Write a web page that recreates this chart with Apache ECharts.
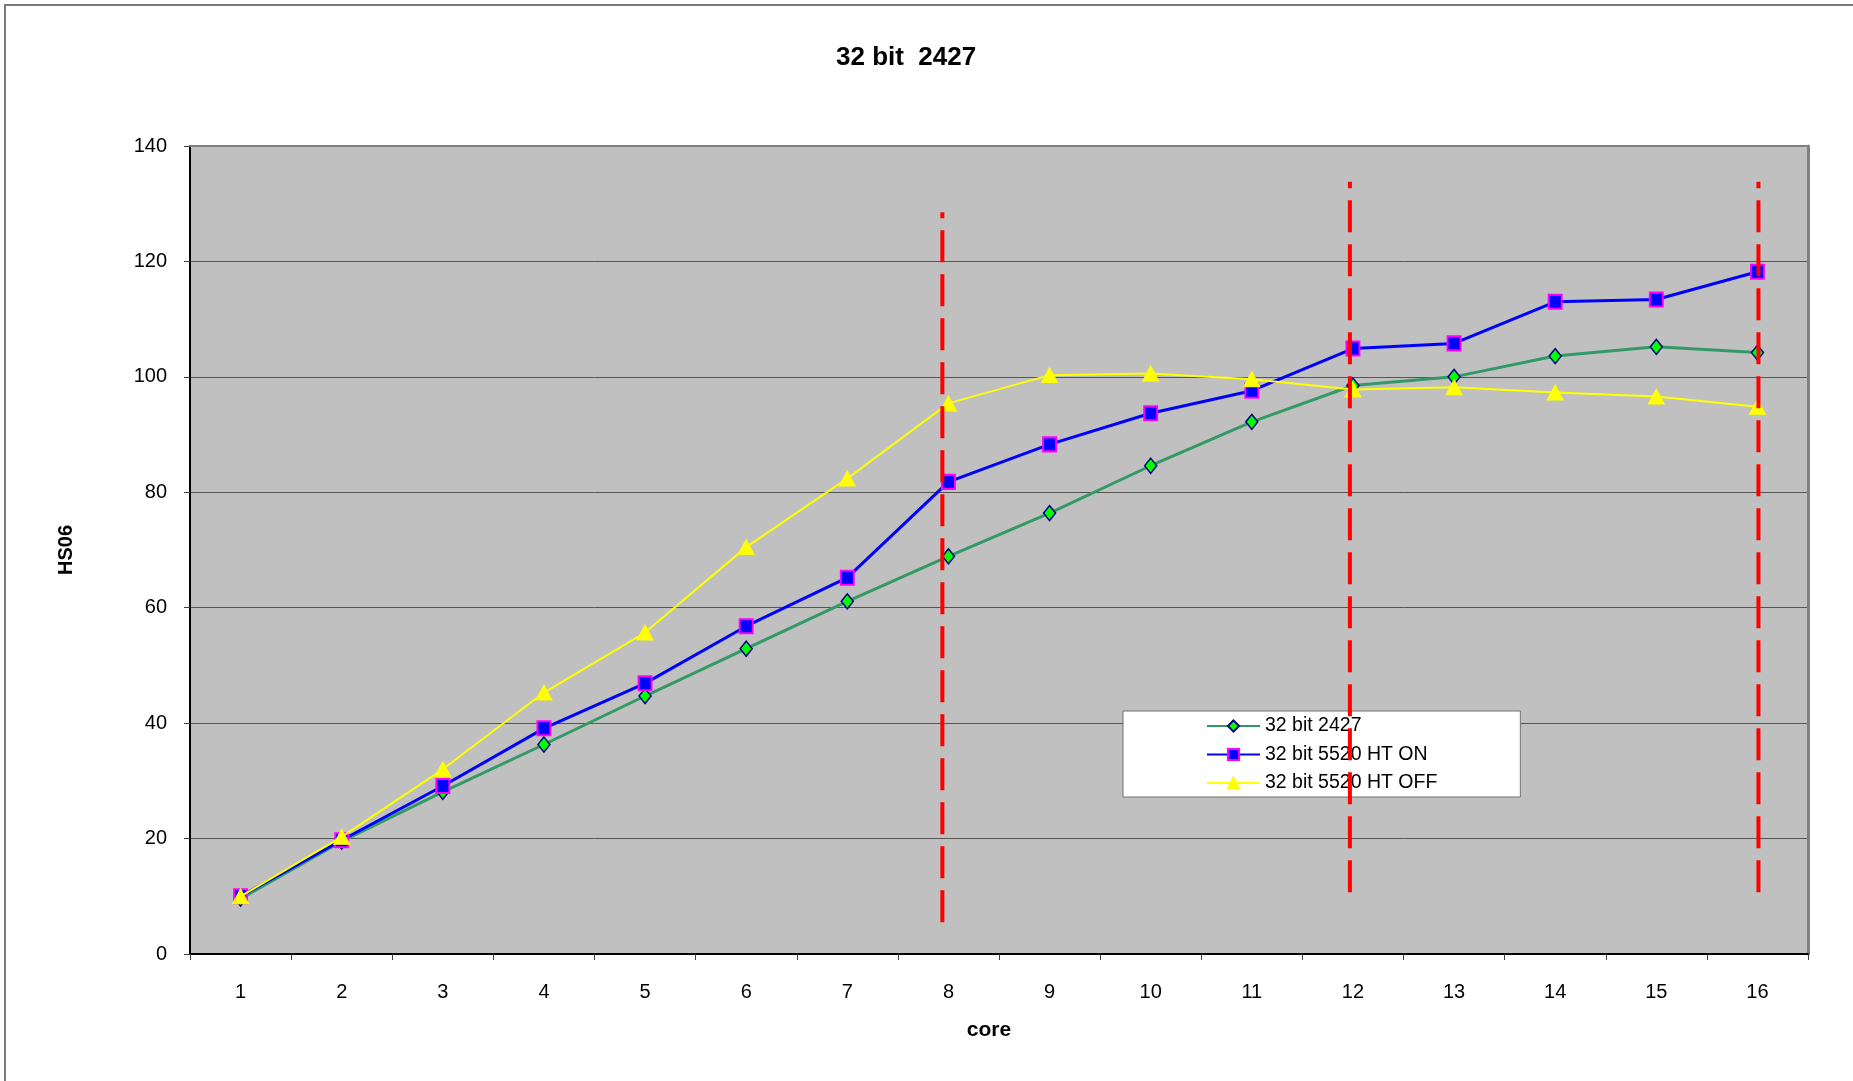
<!DOCTYPE html>
<html>
<head>
<meta charset="utf-8">
<script src="https://cdn.jsdelivr.net/npm/echarts@6/dist/echarts.min.js"></script>
<style>
  html, body { margin: 0; padding: 0; background: #fff; }
  #chart { position: absolute; left: 0; top: 0; width: 1853px; height: 1081px; }
  #frame { position: absolute; left: 4px; top: 4px; right: 0; bottom: 0;
           border-left: 2px solid #7a7a7a; border-top: 2px solid #7a7a7a; pointer-events: none; }
</style>
</head>
<body>
<div id="chart"></div>
<div id="frame"></div>
<script>
const categories = ['1','2','3','4','5','6','7','8','9','10','11','12','13','14','15','16'];
const yTicks = [0, 20, 40, 60, 80, 100, 120, 140];

const s2427 = [9.6, 19.5, 28.1, 36.3, 44.7, 52.9, 61.1, 68.9, 76.4, 84.6, 92.2, 98.5, 100.0, 103.6, 105.2, 104.2];
const s5520On = [10.0, 19.7, 29.1, 39.1, 46.9, 56.8, 65.2, 81.8, 88.3, 93.7, 97.6, 104.9, 105.8, 113.0, 113.4, 118.2];
const s5520Off = [10.0, 20.3, 32.0, 45.3, 55.7, 70.5, 82.4, 95.4, 100.3, 100.6, 99.6, 97.8, 98.2, 97.3, 96.6, 94.8];

const seriesNames = ['32 bit 2427', '32 bit 5520 HT ON', '32 bit 5520 HT OFF'];

// red dashed reference lines: x position (in core units), bottom value, top value
const refX = [7.94, 11.97, 16.01];
const refBottom = [5.5, 10.7, 10.7];
const refTop = [128.5, 133.8, 133.8];

const FONT = '"Liberation Sans", Arial, sans-serif';

const chart = echarts.init(document.getElementById('chart'), null, { renderer: 'canvas' });

const refSeries = refX.map((x, i) => ({
  type: 'line',
  xAxisIndex: 1,
  yAxisIndex: 0,
  data: [[x, refBottom[i]], [x, refTop[i]]],
  symbol: 'none',
  silent: true,
  z: 10,
  lineStyle: { color: '#FF0000', width: 4, type: [32, 12], cap: 'butt' },
  animation: false
}));

const option = {
  animation: false,
  backgroundColor: 'transparent',
  textStyle: { fontFamily: FONT },
  title: {
    text: '32 bit  2427',
    left: 831,
    top: 40,
    textStyle: { fontFamily: FONT, fontSize: 26, fontWeight: 'bold', color: '#000' }
  },
  grid: {
    left: 190, right: 45, top: 146, bottom: 127,
    show: true, backgroundColor: '#C0C0C0', borderWidth: 0
  },
  legend: {
    data: seriesNames,
    orient: 'vertical',
    left: 1123,
    top: 711,
    z: 4,
    backgroundColor: '#FFFFFF',
    borderColor: '#707070',
    borderWidth: 1,
    padding: [5, 83, 4, 83],
    itemWidth: 53,
    itemHeight: 14,
    itemGap: 8.5,
    textStyle: { fontFamily: FONT, fontSize: 19.5, color: '#000', lineHeight: 20 }
  },
  xAxis: [
    {
      type: 'category',
      data: categories,
      boundaryGap: true,
      position: 'bottom',
      name: 'core',
      nameLocation: 'middle',
      nameGap: 66,
      nameTextStyle: { fontFamily: FONT, fontSize: 21, fontWeight: 'bold', color: '#000', padding: [0, 20, 0, 0] },
      axisLine: { show: true, lineStyle: { color: '#000', width: 2 } },
      axisTick: { show: true, length: 6, lineStyle: { color: '#404040', width: 1 } },
      axisLabel: { fontFamily: FONT, fontSize: 20, color: '#000', margin: 28 },
      splitLine: { show: false }
    },
    {
      type: 'value',
      min: 0.5,
      max: 16.5,
      position: 'top',
      axisLine: { show: true, onZero: false, lineStyle: { color: '#808080', width: 2 } },
      axisTick: { show: false },
      axisLabel: { show: false },
      splitLine: { show: false }
    }
  ],
  yAxis: [
    {
      type: 'value',
      min: 0,
      max: 140,
      interval: 20,
      name: 'HS06',
      nameLocation: 'middle',
      nameGap: 114,
      nameTextStyle: { fontFamily: FONT, fontSize: 20, fontWeight: 'bold', color: '#000' },
      axisLine: { show: true, lineStyle: { color: '#000', width: 2 } },
      axisTick: { show: true, length: 6, lineStyle: { color: '#404040', width: 1 } },
      axisLabel: {
        fontFamily: FONT, fontSize: 20, color: '#000', margin: 23,
        formatter: v => (yTicks.indexOf(v) >= 0 ? String(v) : '')
      },
      splitLine: { show: true, lineStyle: { color: '#555555', width: 1 } }
    },
    {
      type: 'value',
      min: 0,
      max: 140,
      position: 'right',
      axisLine: { show: true, onZero: false, lineStyle: { color: '#808080', width: 3 } },
      axisTick: { show: false },
      axisLabel: { show: false },
      splitLine: { show: false }
    }
  ],
  series: [
    {
      name: seriesNames[0],
      type: 'line',
      data: s2427,
      symbol: 'diamond',
      symbolSize: [12, 15],
      lineStyle: { color: '#339966', width: 3 },
      itemStyle: { color: '#00FF00', borderColor: '#000080', borderWidth: 1.5 },
      z: 3
    },
    {
      name: seriesNames[1],
      type: 'line',
      data: s5520On,
      symbol: 'rect',
      symbolSize: [13, 14],
      lineStyle: { color: '#0000FF', width: 3 },
      itemStyle: { color: '#0000FF', borderColor: '#FF00FF', borderWidth: 2 },
      z: 4
    },
    {
      name: seriesNames[2],
      type: 'line',
      data: s5520Off,
      symbol: 'triangle',
      symbolSize: [16, 15],
      lineStyle: { color: '#FFFF00', width: 2 },
      itemStyle: { color: '#FFFF00', borderColor: '#FFFF00', borderWidth: 1 },
      z: 5
    }
  ].concat(refSeries)
};

chart.setOption(option);
</script>
</body>
</html>
